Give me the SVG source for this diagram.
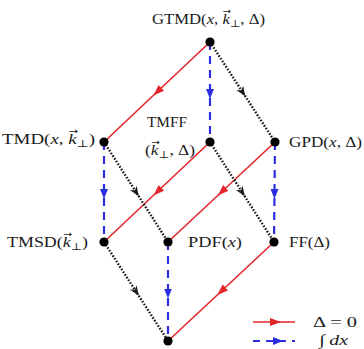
<svg xmlns="http://www.w3.org/2000/svg" width="364" height="349" viewBox="0 0 364 349">
<style>
  text { font-family: "Liberation Serif", "DejaVu Serif", serif; font-size: 15px; fill: #1a1a1a; }
  .i { font-style: italic; }
  .sub { font-size: 10px; }
  .vec { font-family: "DejaVu Sans", sans-serif; font-size: 9px; }
  .red { stroke: #e3262b; stroke-width: 1.6; fill: none; marker-mid: url(#ar); }
  .blue { stroke: #2b2fe0; stroke-width: 2.2; fill: none; stroke-dasharray: 8 6; marker-mid: url(#ab); }
  .dot { stroke: #1a1a1a; stroke-width: 2.4; fill: none; stroke-dasharray: 1.6 1.6; marker-mid: url(#ak); }
  .node { fill: #000; }
</style>
<defs>
  <marker id="ar" markerUnits="userSpaceOnUse" markerWidth="12" markerHeight="10" refX="6" refY="4" orient="auto" viewBox="0 0 12 8">
    <path d="M0,0 L11,4 L0,8 z" fill="#e3262b"/>
  </marker>
  <marker id="ab" markerUnits="userSpaceOnUse" markerWidth="12" markerHeight="10" refX="3" refY="4" orient="auto" viewBox="0 0 12 8">
    <path d="M0,0 L10,4 L0,8 z" fill="#2b2fe0"/>
  </marker>
  <marker id="ak" markerUnits="userSpaceOnUse" markerWidth="12" markerHeight="10" refX="5" refY="4" orient="auto" viewBox="0 0 12 8">
    <path d="M0,0 L10,4 L0,8 L3,4 z" fill="#1a1a1a"/>
  </marker>
</defs>

<g id="connectors">
  <path class="red" d="M210,42 L157,92 L104,142"/>
  <path class="red" d="M210,142 L157,192 L104,242"/>
  <path class="red" d="M275,142 L221.5,192 L168,242"/>
  <path class="red" d="M274,242 L221,291.5 L168,341"/>
  <path class="blue" d="M210,42 L210,92 L210,142"/>
  <path class="blue" d="M104,142 L104,192 L104,242"/>
  <path class="blue" d="M275,142 L274.5,192 L274,242"/>
  <path class="blue" d="M168,242 L168,291.5 L168,341"/>
  <path class="dot" d="M210,42 L242.5,92 L275,142"/>
  <path class="dot" d="M104,142 L136,192 L168,242"/>
  <path class="dot" d="M210,142 L242,192 L274,242"/>
  <path class="dot" d="M104,242 L136,291.5 L168,341"/>
</g>

<g id="GTMD">
  <circle class="node" cx="210" cy="42" r="4.6"/>
  <text x="152" y="24" textLength="113" lengthAdjust="spacingAndGlyphs">GTMD(<tspan class="i">x</tspan>, <tspan class="i">k</tspan><tspan class="vec" dx="-6.3" dy="-10">→</tspan><tspan class="sub" dx="-1.2" dy="13">⊥</tspan><tspan dy="-3">, Δ)</tspan></text>
</g>

<g id="TMD">
  <circle class="node" cx="104" cy="142" r="4.6"/>
  <text x="2" y="144" textLength="93" lengthAdjust="spacingAndGlyphs">TMD(<tspan class="i">x</tspan>, <tspan class="i">k</tspan><tspan class="vec" dx="-6.3" dy="-10">→</tspan><tspan class="sub" dx="-1.2" dy="13">⊥</tspan><tspan dy="-3">)</tspan></text>
</g>

<g id="TMFF">
  <circle class="node" cx="210" cy="142" r="4.6"/>
  <text x="147" y="127" textLength="40" lengthAdjust="spacingAndGlyphs">TMFF</text>
  <text x="145" y="155" textLength="50" lengthAdjust="spacingAndGlyphs">(<tspan class="i">k</tspan><tspan class="vec" dx="-6.3" dy="-10">→</tspan><tspan class="sub" dx="-1.2" dy="13">⊥</tspan><tspan dy="-3">, Δ)</tspan></text>
</g>

<g id="GPD">
  <circle class="node" cx="275" cy="142" r="4.6"/>
  <text x="289" y="147" textLength="73" lengthAdjust="spacingAndGlyphs">GPD(<tspan class="i">x</tspan>, Δ)</text>
</g>

<g id="TMSD">
  <circle class="node" cx="104" cy="242" r="4.6"/>
  <text x="7" y="247" textLength="81" lengthAdjust="spacingAndGlyphs">TMSD(<tspan class="i">k</tspan><tspan class="vec" dx="-6.3" dy="-10">→</tspan><tspan class="sub" dx="-1.2" dy="13">⊥</tspan><tspan dy="-3">)</tspan></text>
</g>

<g id="PDF">
  <circle class="node" cx="168" cy="242" r="4.6"/>
  <text x="188" y="247" textLength="54" lengthAdjust="spacingAndGlyphs">PDF(<tspan class="i">x</tspan>)</text>
</g>

<g id="FF">
  <circle class="node" cx="274" cy="242" r="4.6"/>
  <text x="289" y="247" textLength="41" lengthAdjust="spacingAndGlyphs">FF(Δ)</text>
</g>

<g id="bottom">
  <circle class="node" cx="168" cy="341" r="4.6"/>
</g>

<g id="legend">
  <path class="red" d="M253,322 L276,322 L295,322"/>
  <path class="blue" d="M253,341 L276,341 L295,341" style="stroke-dasharray:7 6"/>
  <text x="313" y="327" textLength="44" lengthAdjust="spacingAndGlyphs">Δ = 0</text>
  <text x="319" y="345" textLength="29" lengthAdjust="spacingAndGlyphs">∫ <tspan class="i">dx</tspan></text>
</g>
</svg>
